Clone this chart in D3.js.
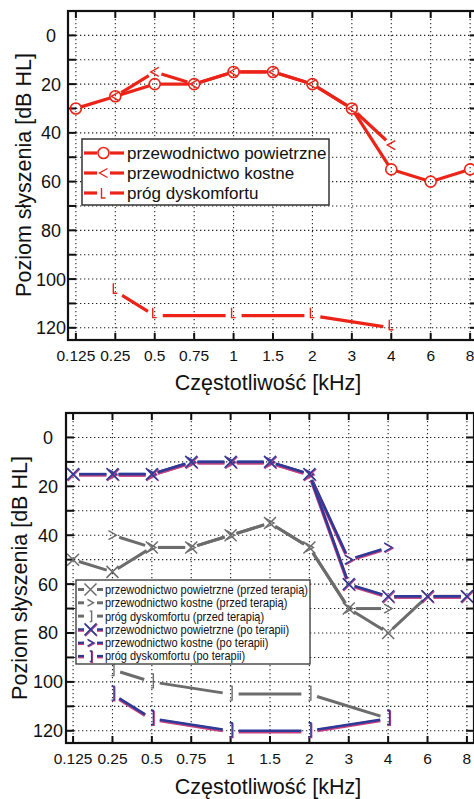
<!DOCTYPE html>
<html><head><meta charset="utf-8">
<script src="https://cdn.jsdelivr.net/npm/d3@7"></script>
<style>
html,body{margin:0;padding:0;background:#fff;}
svg{display:block;}
text{font-family:"Liberation Sans",Arial,sans-serif;fill:#111;}
</style></head>
<body>
<svg id="c" width="474" height="799"></svg>
<script>
// ---- data ----
const categories = ["0.125","0.25","0.5","0.75","1","1.5","2","3","4","6","8"];
const yTicks = [0,20,40,60,80,100,120];
const gridTicks = [0,10,20,30,40,50,60,70,80,90,100,110,120];

// top chart
const airTop  = [30,25,20,20,15,15,20,30,55,60,55];
const boneTop = [null,25,15,20,15,15,20,30,45,null,null];
const uclTop  = [null,105,115,null,115,null,115,null,120,null,null];

// bottom chart
const airBefore  = [50,55,45,45,40,35,45,70,80,65,65];
const boneBefore = [null,40,45,45,40,35,45,70,70,null,null];
const uclBefore  = [null,95,100,null,105,null,105,null,115,null,null];
const airAfter   = [15,15,15,10,10,10,15,60,65,65,65];
const boneAfter  = [null,15,15,10,10,10,15,50,45,null,null];
const uclAfter   = [null,105,115,null,120,null,120,null,115,null,null];

const topLegend = ["przewodnictwo powietrzne","przewodnictwo kostne","próg dyskomfortu"];
const bottomLegend = ["przewodnictwo powietrzne (przed terapią)","przewodnictwo kostne (przed terapią)",
  "próg dyskomfortu (przed terapią)","przewodnictwo powietrzne (po terapii)",
  "przewodnictwo kostne (po terapii)","próg dyskomfortu (po terapii)"];

const yTitle = "Poziom słyszenia [dB HL]";
const xTitle = "Częstotliwość [kHz]";

// ---- styles ----
const RED = "#ec2418", GRAY = "#6c6c6c", BLUE = "#2e3a98", MAG = "#c8407e";
const svg = d3.select("#c");

function markerPath(type, x, y, s) {
  s = s || 1;
  switch (type) {
    case "lt": return `M${x+4*s},${y-4.5*s}L${x-4*s},${y}L${x+4*s},${y+4.5*s}`;
    case "gt": return `M${x-4*s},${y-4.5*s}L${x+4*s},${y}L${x-4*s},${y+4.5*s}`;
    case "L":  return `M${x-2*s},${y-8*s}L${x-2*s},${y+2*s}L${x+2*s},${y+2*s}`;
    case "br": return `M${x-1*s},${y-8*s}L${x+1.5*s},${y-8*s}L${x+1.5*s},${y+6*s}L${x-1*s},${y+6*s}`;
    case "x":  return `M${x-6*s},${y-6*s}L${x+6*s},${y+6*s}M${x-6*s},${y+6*s}L${x+6*s},${y-6*s}`;
  }
  return null;
}
const gapFor = {circle:5.5, lt:7, gt:7, L:8, br:8, x:6};

function drawMarker(g, type, x, y, color, mag, s) {
  if (type === "circle") {
    g.append("circle").attr("cx", x).attr("cy", y).attr("r", 5.5)
      .attr("fill", "none").attr("stroke", color).attr("stroke-width", 1.6);
    return;
  }
  const d = markerPath(type, x, y, s);
  if (mag) g.append("path").attr("d", d).attr("transform","translate(0.8,0.8)").attr("fill","none")
      .attr("stroke", MAG).attr("stroke-width", 1.4);
  g.append("path").attr("d", d).attr("fill", "none").attr("stroke", color)
    .attr("stroke-width", type === "x" ? 1.5 : 1.4);
}

function drawSeg(g, x0, y0, x1, y1, color, width, mag) {
  if (mag) g.append("line").attr("x1",x0).attr("y1",y0+0.9).attr("x2",x1).attr("y2",y1+0.9)
    .attr("stroke", MAG).attr("stroke-width", width);
  g.append("line").attr("x1",x0).attr("y1",y0).attr("x2",x1).attr("y2",y1)
    .attr("stroke", color).attr("stroke-width", mag ? width-0.8 : width);
}

function drawSeries(g, x, y, values, type, color, width, mag) {
  const pts = [];
  values.forEach((v, i) => { if (v !== null) pts.push([x(categories[i]), y(v)]); });
  const gap = gapFor[type];
  for (let i = 0; i < pts.length - 1; i++) {
    const [ax, ay] = pts[i], [bx, by] = pts[i+1];
    const L = Math.hypot(bx-ax, by-ay), ux = (bx-ax)/L, uy = (by-ay)/L;
    drawSeg(g, ax+ux*gap, ay+uy*gap, bx-ux*gap, by-uy*gap, color, width, mag);
  }
  pts.forEach(p => drawMarker(g, type, p[0], p[1], color, mag));
}

function drawFrame(cfg) {
  const {left, right, top, bottom, pad, labelX} = cfg;
  const x = d3.scalePoint().domain(categories).range([left, right]).padding(pad);
  const y = d3.scaleLinear().domain([-10, 125]).range([top, bottom]);
  const g = svg.append("g");
  const grid = g.append("g").attr("stroke", "#222").attr("stroke-width", 1.1).attr("stroke-dasharray", "1.3,2.7");
  categories.forEach(c => grid.append("line").attr("x1", x(c)).attr("x2", x(c)).attr("y1", top).attr("y2", bottom));
  gridTicks.forEach(t => grid.append("line").attr("x1", left).attr("x2", right).attr("y1", y(t)).attr("y2", y(t)));
  const tk = g.append("g").attr("stroke", "#111").attr("stroke-width", 2);
  categories.forEach(c => {
    tk.append("line").attr("x1", x(c)).attr("x2", x(c)).attr("y1", top).attr("y2", top+7);
    tk.append("line").attr("x1", x(c)).attr("x2", x(c)).attr("y1", bottom).attr("y2", bottom-7);
  });
  gridTicks.forEach(t => {
    tk.append("line").attr("x1", left).attr("x2", left+8).attr("y1", y(t)).attr("y2", y(t));
    tk.append("line").attr("x1", right).attr("x2", right-8).attr("y1", y(t)).attr("y2", y(t));
  });
  categories.forEach(c => g.append("text").attr("x", x(c)).attr("y", bottom + 21)
    .attr("text-anchor", "middle").attr("font-size", 15.5).text(c));
  yTicks.forEach(t => g.append("text").attr("x", labelX).attr("y", y(t)).attr("dy", "0.36em")
    .attr("text-anchor", "middle").attr("font-size", 18).text(t));
  return {x, y, g};
}

function drawBorder(g, cfg) {
  g.append("rect").attr("x", cfg.left).attr("y", cfg.top)
    .attr("width", cfg.right - cfg.left).attr("height", cfg.bottom - cfg.top)
    .attr("fill", "none").attr("stroke", "#111").attr("stroke-width", 2.2);
}

// ================= TOP CHART =================
const topCfg = {left: 68, right: 478, top: 11, bottom: 340, pad: 0.2, labelX: 51};
{
  const {x, y, g} = drawFrame(topCfg);
  const s = g.append("g");
  drawSeries(s, x, y, uclTop, "L", RED, 3.2);
  drawSeries(s, x, y, boneTop, "lt", RED, 3.2);
  drawSeries(s, x, y, airTop, "circle", RED, 3.2);
  drawBorder(g, topCfg);
  const lg = g.append("g");
  lg.append("rect").attr("x", 82).attr("y", 139).attr("width", 247).attr("height", 66)
    .attr("fill", "#fff").attr("stroke", "#333").attr("stroke-width", 1.5);
  const types = ["circle", "lt", "L"];
  topLegend.forEach((t, i) => {
    const cy = 153 + i * 20;
    drawSeg(lg, 84, cy, 97, cy, RED, 3.2);
    drawSeg(lg, 110, cy, 124, cy, RED, 3.2);
    drawMarker(lg, types[i], 103.5, types[i] === "L" ? cy + 3 : cy, RED);
    lg.append("text").attr("x", 127).attr("y", cy).attr("dy", "0.36em").attr("font-size", 17).text(t);
  });
  g.append("text").attr("transform", `translate(31,175) rotate(-90)`).attr("text-anchor", "middle")
    .attr("font-size", 21.5).text(yTitle);
  g.append("text").attr("x", 268).attr("y", 390).attr("text-anchor", "middle")
    .attr("font-size", 21.5).text(xTitle);
}

// ================= BOTTOM CHART =================
const botCfg = {left: 66, right: 474, top: 413, bottom: 743, pad: 0.18, labelX: 48};
{
  const {x, y, g} = drawFrame(botCfg);
  const s = g.append("g");
  drawSeries(s, x, y, uclBefore, "br", GRAY, 3);
  drawSeries(s, x, y, boneBefore, "gt", GRAY, 3);
  drawSeries(s, x, y, airBefore, "x", GRAY, 3);
  drawSeries(s, x, y, uclAfter, "br", BLUE, 3.4, true);
  drawSeries(s, x, y, boneAfter, "gt", BLUE, 3.4, true);
  drawSeries(s, x, y, airAfter, "x", BLUE, 3.4, true);
  drawBorder(g, botCfg);
  const lg = g.append("g");
  lg.append("rect").attr("x", 76).attr("y", 580).attr("width", 234).attr("height", 84)
    .attr("fill", "#fff").attr("stroke", "#333").attr("stroke-width", 1.3);
  const types = ["x", "gt", "br", "x", "gt", "br"];
  bottomLegend.forEach((t, i) => {
    const cy = 589.5 + i * 13.3;
    const col = i < 3 ? GRAY : BLUE, mag = i >= 3;
    drawSeg(lg, 78, cy, 84, cy, col, 3, mag);
    drawSeg(lg, 97, cy, 103, cy, col, 3, mag);
    drawMarker(lg, types[i], 90.5, types[i] === "br" ? cy + 1 : cy, col, mag, types[i] === "x" ? 1 : 0.75);
    lg.append("text").attr("transform", `translate(105,${cy}) scale(0.9,1)`).attr("dy", "0.36em")
      .attr("font-size", 12.2).text(t);
  });
  g.append("text").attr("transform", `translate(27,578) rotate(-90)`).attr("text-anchor", "middle")
    .attr("font-size", 21.5).text(yTitle);
  g.append("text").attr("x", 268).attr("y", 794).attr("text-anchor", "middle")
    .attr("font-size", 21.5).text(xTitle);
}
</script>
</body></html>
